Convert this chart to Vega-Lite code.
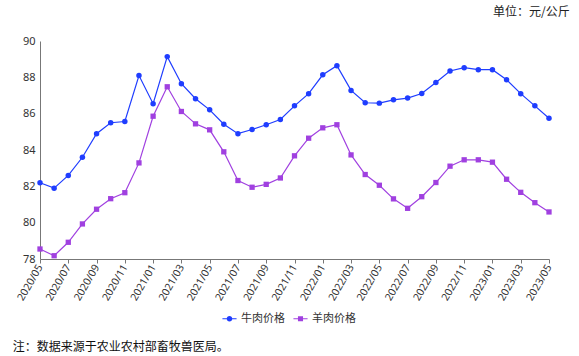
{
  "$schema": "https://vega.github.io/schema/vega-lite/v6.json",
  "background": "white",
  "padding": {"left": 12, "top": 6, "right": 0, "bottom": 4},
  "config": {
    "view": {"stroke": null},
    "font": "Noto Sans CJK SC",
    "axis": {"labelFont": "Noto Sans", "labelFontSize": 10.5, "labelColor": "#333", "domainColor": "#777", "tickColor": "#777", "grid": false, "title": null}
  },
  "title": {"text": "注：数据来源于农业农村部畜牧兽医局。", "orient": "bottom", "anchor": "start", "fontSize": 12, "fontWeight": "normal", "color": "#111", "font": "Noto Sans CJK SC", "dx": -3, "offset": 18},
  "vconcat": [
    {
      "width": 509,
      "height": 218,
      "title": {"text": "单位：元/公斤", "anchor": "end", "fontSize": 12, "fontWeight": "normal", "color": "#222", "font": "Noto Sans CJK SC", "dx": 16, "offset": 16},
      "data": {"values": [
        {"month": "2020/05", "牛肉价格": 82.2, "羊肉价格": 78.55},
        {"month": "2020/06", "牛肉价格": 81.9, "羊肉价格": 78.18},
        {"month": "2020/07", "牛肉价格": 82.6, "羊肉价格": 78.92},
        {"month": "2020/08", "牛肉价格": 83.6, "羊肉价格": 79.93},
        {"month": "2020/09", "牛肉价格": 84.9, "羊肉价格": 80.74},
        {"month": "2020/10", "牛肉价格": 85.5, "羊肉价格": 81.32},
        {"month": "2020/11", "牛肉价格": 85.57, "羊肉价格": 81.65},
        {"month": "2020/12", "牛肉价格": 88.1, "羊肉价格": 83.29},
        {"month": "2021/01", "牛肉价格": 86.55, "羊肉价格": 85.86},
        {"month": "2021/02", "牛肉价格": 89.14, "羊肉价格": 87.48},
        {"month": "2021/03", "牛肉价格": 87.65, "羊肉价格": 86.12},
        {"month": "2021/04", "牛肉价格": 86.82, "羊肉价格": 85.44},
        {"month": "2021/05", "牛肉价格": 86.21, "羊肉价格": 85.11},
        {"month": "2021/06", "牛肉价格": 85.42, "羊肉价格": 83.9},
        {"month": "2021/07", "牛肉价格": 84.9, "羊肉价格": 82.32},
        {"month": "2021/08", "牛肉价格": 85.13, "羊肉价格": 81.95},
        {"month": "2021/09", "牛肉价格": 85.39, "羊肉价格": 82.11},
        {"month": "2021/10", "牛肉价格": 85.68, "羊肉价格": 82.46},
        {"month": "2021/11", "牛肉价格": 86.43, "羊肉价格": 83.68},
        {"month": "2021/12", "牛肉价格": 87.1, "羊肉价格": 84.65},
        {"month": "2022/01", "牛肉价格": 88.14, "羊肉价格": 85.22},
        {"month": "2022/02", "牛肉价格": 88.64, "羊肉价格": 85.39},
        {"month": "2022/03", "牛肉价格": 87.28, "羊肉价格": 83.73},
        {"month": "2022/04", "牛肉价格": 86.6, "羊肉价格": 82.65},
        {"month": "2022/05", "牛肉价格": 86.58, "羊肉价格": 82.06},
        {"month": "2022/06", "牛肉价格": 86.76, "羊肉价格": 81.31},
        {"month": "2022/07", "牛肉价格": 86.86, "羊肉价格": 80.79},
        {"month": "2022/08", "牛肉价格": 87.11, "羊肉价格": 81.43},
        {"month": "2022/09", "牛肉价格": 87.72, "羊肉价格": 82.21},
        {"month": "2022/10", "牛肉价格": 88.35, "羊肉价格": 83.11},
        {"month": "2022/11", "牛肉价格": 88.53, "羊肉价格": 83.46},
        {"month": "2022/12", "牛肉价格": 88.42, "羊肉价格": 83.46},
        {"month": "2023/01", "牛肉价格": 88.42, "羊肉价格": 83.33},
        {"month": "2023/02", "牛肉价格": 87.87, "羊肉价格": 82.39},
        {"month": "2023/03", "牛肉价格": 87.1, "羊肉价格": 81.67},
        {"month": "2023/04", "牛肉价格": 86.43, "羊肉价格": 81.1},
        {"month": "2023/05", "牛肉价格": 85.75, "羊肉价格": 80.59}
      ]},
      "transform": [{"fold": ["牛肉价格", "羊肉价格"], "as": ["series", "value"]}],
      "encoding": {
        "x": {"field": "month", "type": "ordinal", "scale": {"type": "point", "padding": 0},
              "axis": {"values": ["2020/05","2020/07","2020/09","2020/11","2021/01","2021/03","2021/05","2021/07","2021/09","2021/11","2022/01","2022/03","2022/05","2022/07","2022/09","2022/11","2023/01","2023/03","2023/05"],
                       "labelAngle": -60, "tickSize": 4, "labelPadding": 2}},
        "y": {"field": "value", "type": "quantitative", "scale": {"domain": [78, 90], "nice": false, "zero": false},
              "axis": {"values": [78, 80, 82, 84, 86, 88, 90], "ticks": false, "labelPadding": 5, "labelFontSize": 11}},
        "color": {"field": "series", "type": "nominal",
                  "scale": {"domain": ["牛肉价格", "羊肉价格"], "range": ["#1f3dff", "#a040e0"]}}
      },
      "layer": [
        {"mark": {"type": "line", "strokeWidth": 1.2}},
        {"transform": [{"filter": "datum.series === '牛肉价格'"}],
         "mark": {"type": "point", "filled": true, "opacity": 1, "size": 30, "shape": "circle"}},
        {"transform": [{"filter": "datum.series === '羊肉价格'"}],
         "mark": {"type": "point", "filled": true, "opacity": 1, "size": 28, "shape": "square"}},
        {"mark": {"type": "point", "filled": true, "opacity": 0, "size": 1},
         "encoding": {
           "shape": {"field": "series", "type": "nominal",
                     "scale": {"domain": ["牛肉价格", "羊肉价格"], "range": ["M-1,-0.07H1V0.07H-1Z M0.4,0A0.4,0.4 0 1 1 -0.4,0A0.4,0.4 0 1 1 0.4,0Z", "M-1,-0.07H1V0.07H-1Z M-0.36,-0.36H0.36V0.36H-0.36Z"]},
                     "legend": {"orient": "none", "legendX": 182, "legendY": 270, "direction": "horizontal", "title": null, "labelFontSize": 11, "labelColor": "#333", "labelFont": "Noto Sans CJK SC", "symbolSize": 200, "symbolOpacity": 1, "symbolStrokeWidth": 0, "columnPadding": 8}},
           "color": {"field": "series", "type": "nominal",
                     "legend": {"orient": "none", "legendX": 182, "legendY": 270, "direction": "horizontal", "title": null, "labelFontSize": 11, "labelColor": "#333", "labelFont": "Noto Sans CJK SC", "symbolSize": 200, "symbolOpacity": 1, "symbolStrokeWidth": 0, "columnPadding": 8}}
         }}
      ]
    }
  ]
}
